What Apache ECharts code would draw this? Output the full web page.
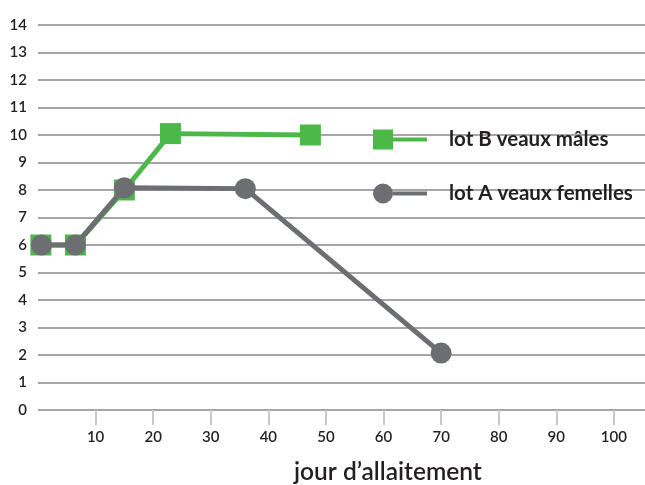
<!DOCTYPE html>
<html>
<head>
<meta charset="utf-8">
<script src="https://cdn.jsdelivr.net/npm/echarts@6/dist/echarts.min.js"></script>
<style>html,body{margin:0;padding:0;background:#fff}#c{width:645px;height:485px}</style>
</head>
<body>
<div id="c"></div>
<script>
const xTicks = [10, 20, 30, 40, 50, 60, 70, 80, 90, 100];
const seriesBName = 'lot B veaux mâles';
const seriesBX = [0.5, 6.5, 15, 23, 47.3];
const seriesBY = [6, 6, 8, 10.05, 10];
const seriesAName = 'lot A veaux femelles';
const seriesAX = [0.6, 6.5, 15, 36, 70];
const seriesAY = [6, 6, 8.08, 8.05, 2.07];
const xTitle = 'jour d’allaitement';

const green = '#4cb848', grey = '#6d6e71', txt = '#231f20';
const chart = echarts.init(document.getElementById('c'), null, {renderer: 'canvas'});
chart.setOption({
  animation: false,
  grid: {left: 38, right: 0, top: 25, bottom: 75, containLabel: false},
  xAxis: {
    type: 'value', min: 0, max: 105.4, interval: 10,
    axisLine: {show: false},
    splitLine: {show: false},
    axisTick: {show: true, customValues: xTicks, length: 15, lineStyle: {color: '#c8c8ca', width: 2}},
    axisLabel: {customValues: xTicks, margin: 20, color: txt, fontSize: 15, fontFamily: 'Lato', fontWeight: 600}
  },
  yAxis: {
    type: 'value', min: 0, max: 14, interval: 1,
    axisLine: {show: false}, axisTick: {show: false},
    splitLine: {lineStyle: {color: '#a5a5a7', width: 2}},
    axisLabel: {margin: 11, color: txt, fontSize: 15, fontFamily: 'Lato', fontWeight: 600}
  },
  legend: {
    orient: 'vertical', left: 368, top: 124, itemGap: 33,
    itemWidth: 54, itemHeight: 20,
    textStyle: {color: txt, fontSize: 20.5, lineHeight: 20, fontFamily: 'Lato', fontWeight: 'bold', padding: [0, 0, 0, 17]},
    data: [
      {name: seriesBName, icon: 'path://M0,0H20V20H0Z M20,8H54V12H20Z'},
      {name: seriesAName, icon: 'path://M0,10A10,10,0,1,1,20,10A10,10,0,1,1,0,10Z M20,8H54V12H20Z'}
    ]
  },
  graphic: [{
    type: 'text', left: 294, top: 460,
    style: {text: xTitle, fill: txt, fontSize: 24.5, fontFamily: 'Lato', fontWeight: 600}
  }],
  series: [
    {
      name: seriesBName, type: 'line', z: 2,
      data: seriesBX.map((x, i) => [x, seriesBY[i]]),
      symbol: 'rect', symbolSize: 21,
      lineStyle: {color: green, width: 5},
      itemStyle: {color: green}
    },
    {
      name: seriesAName, type: 'line', z: 3,
      data: seriesAX.map((x, i) => [x, seriesAY[i]]),
      symbol: 'circle', symbolSize: 21,
      lineStyle: {color: grey, width: 5},
      itemStyle: {color: grey}
    }
  ]
});
</script>
</body>
</html>
